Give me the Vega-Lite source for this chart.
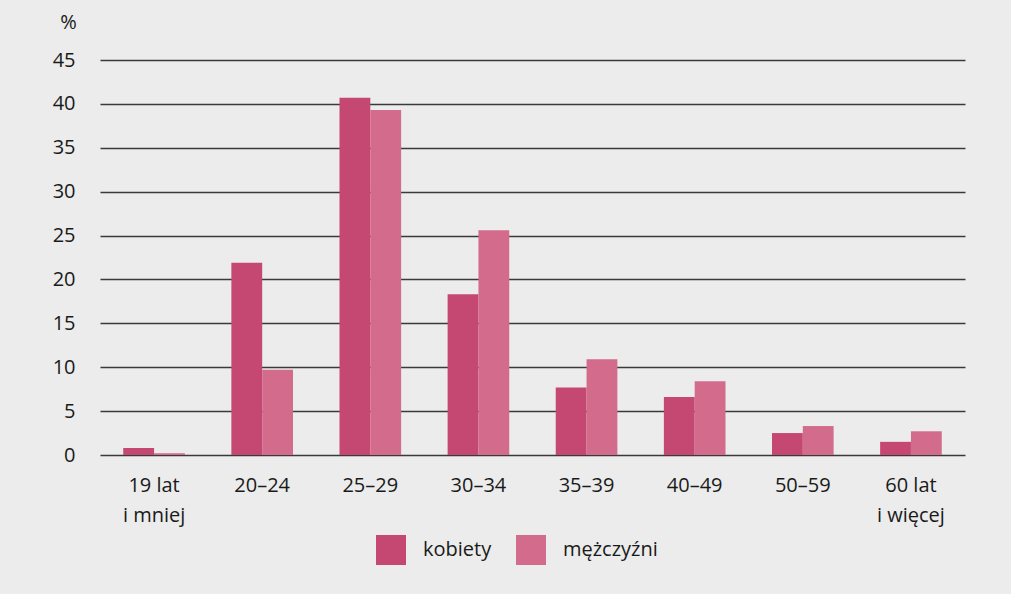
{
  "$schema": "https://vega.github.io/schema/vega-lite/v6.json",
  "width": 865,
  "height": 395,
  "autosize": {"type": "none"},
  "padding": {"left": 100, "top": 60, "right": 46, "bottom": 139},
  "background": "#ebeceb",
  "config": {
    "view": {"stroke": null},
    "font": "Open Sans",
    "axis": {"labelFont": "Open Sans", "labelColor": "#1a1a1a", "titleColor": "#1a1a1a"},
    "legend": {"labelFont": "Open Sans", "labelColor": "#1a1a1a"}
  },
  "data": {
    "values": [
      {"age": "19 lat i mniej", "sex": "kobiety", "value": 0.8},
      {"age": "19 lat i mniej", "sex": "mężczyźni", "value": 0.2},
      {"age": "20–24", "sex": "kobiety", "value": 21.9},
      {"age": "20–24", "sex": "mężczyźni", "value": 9.7},
      {"age": "25–29", "sex": "kobiety", "value": 40.7},
      {"age": "25–29", "sex": "mężczyźni", "value": 39.3},
      {"age": "30–34", "sex": "kobiety", "value": 18.3},
      {"age": "30–34", "sex": "mężczyźni", "value": 25.6},
      {"age": "35–39", "sex": "kobiety", "value": 7.7},
      {"age": "35–39", "sex": "mężczyźni", "value": 10.9},
      {"age": "40–49", "sex": "kobiety", "value": 6.6},
      {"age": "40–49", "sex": "mężczyźni", "value": 8.4},
      {"age": "50–59", "sex": "kobiety", "value": 2.5},
      {"age": "50–59", "sex": "mężczyźni", "value": 3.3},
      {"age": "60 lat i więcej", "sex": "kobiety", "value": 1.5},
      {"age": "60 lat i więcej", "sex": "mężczyźni", "value": 2.7}
    ]
  },
  "mark": {"type": "bar"},
  "encoding": {
    "x": {
      "field": "age",
      "type": "nominal",
      "sort": null,
      "scale": {"paddingInner": 0.43, "paddingOuter": 0.215},
      "axis": {
        "title": null,
        "labelAngle": 0,
        "domain": false,
        "ticks": false,
        "labelFontSize": 20,
        "labelPadding": 20,
        "labelLineHeight": 30,
        "labelBaseline": "top",
        "labelExpr": "datum.label == '19 lat i mniej' ? ['19 lat', 'i mniej'] : datum.label == '60 lat i więcej' ? ['60 lat', 'i więcej'] : datum.label"
      }
    },
    "xOffset": {"field": "sex", "type": "nominal", "sort": ["kobiety", "mężczyźni"], "scale": {"paddingInner": 0, "paddingOuter": 0}},
    "y": {
      "field": "value",
      "type": "quantitative",
      "scale": {"domain": [0, 45]},
      "axis": {
        "values": [0, 5, 10, 15, 20, 25, 30, 35, 40, 45],
        "title": "%",
        "titleAngle": 0,
        "titleAlign": "center",
        "titleBaseline": "middle",
        "titleX": -32,
        "titleY": -38,
        "titleFontSize": 20,
        "titleFontWeight": "normal",
        "domain": false,
        "ticks": false,
        "labelFontSize": 20,
        "labelPadding": 25,
        "grid": true,
        "gridColor": "#3a3a3a",
        "gridWidth": 1.3
      }
    },
    "color": {
      "field": "sex",
      "type": "nominal",
      "scale": {"domain": ["kobiety", "mężczyźni"], "range": ["#c54872", "#d36b8c"]},
      "legend": {
        "title": null,
        "orient": "none",
        "legendX": 276,
        "legendY": 475,
        "padding": 0,
        "direction": "horizontal",
        "symbolType": "square",
        "symbolSize": 900,
        "symbolStrokeWidth": 0,
        "labelFontSize": 20,
        "labelOffset": 17,
        "columnPadding": 24
      }
    }
  }
}
